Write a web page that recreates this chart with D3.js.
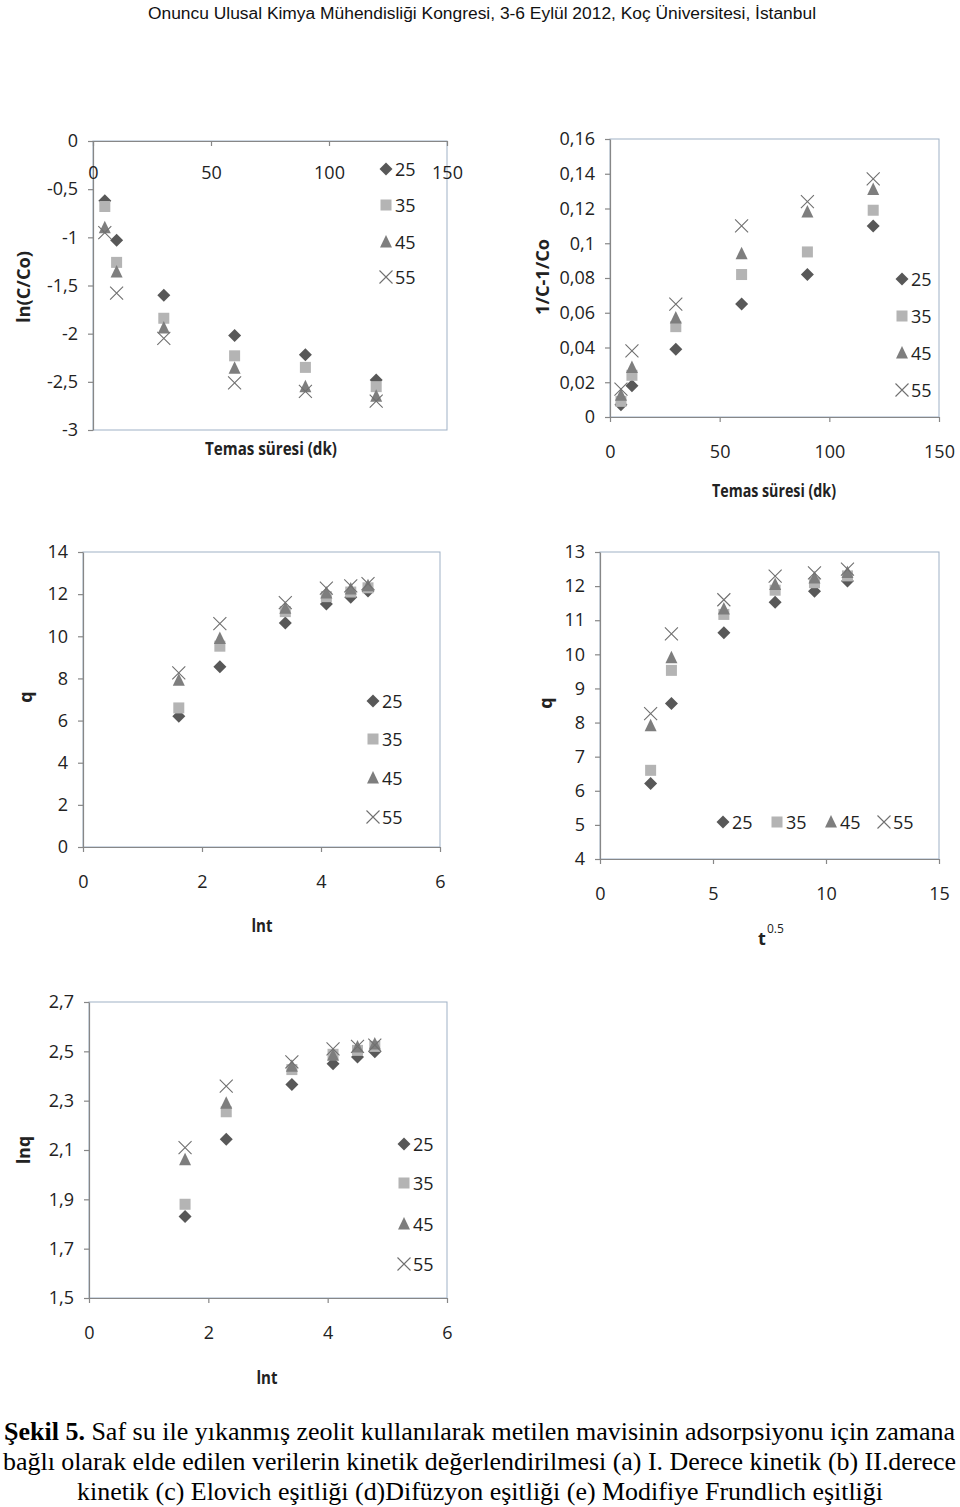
<!DOCTYPE html>
<html>
<head>
<meta charset="utf-8">
<script src="https://cdn.jsdelivr.net/npm/d3@7"></script>
<style>
  html, body { margin: 0; padding: 0; background: #fff; }
  svg { display: block; }
</style>
</head>
<body>
<svg id="fig" width="960" height="1507"></svg>
<script>
// ---------------- DATA ----------------
const seriesNames = ["25", "35", "45", "55"];
const timeMin = [5, 10, 30, 60, 90, 120];
const lnT = [1.61, 2.30, 3.40, 4.09, 4.50, 4.79];
const sqrtT = [2.24, 3.16, 5.48, 7.75, 9.49, 10.95];

// (a) ln(C/Co)
const lnC_25 = [-0.62, -1.03, -1.60, -2.02, -2.22, -2.48];
const lnC_35 = [-0.68, -1.26, -1.84, -2.23, -2.35, -2.55];
const lnC_45 = [-0.90, -1.36, -1.94, -2.36, -2.55, -2.65];
const lnC_55 = [-0.95, -1.58, -2.05, -2.51, -2.60, -2.70];

// (b) 1/C - 1/Co
const inv_25 = [0.007, 0.018, 0.039, 0.065, 0.082, 0.110];
const inv_35 = [0.009, 0.024, 0.052, 0.082, 0.095, 0.119];
const inv_45 = [0.0125, 0.0285, 0.057, 0.094, 0.118, 0.131];
const inv_55 = [0.016, 0.038, 0.065, 0.110, 0.124, 0.137];

// (c),(d) q
const q_25 = [6.21, 8.56, 10.63, 11.53, 11.85, 12.15];
const q_35 = [6.60, 9.53, 11.17, 11.88, 12.10, 12.30];
const q_45 = [7.91, 9.90, 11.33, 12.05, 12.24, 12.40];
const q_55 = [8.26, 10.60, 11.60, 12.29, 12.39, 12.50];

// (e) ln q
const lnq_25 = [1.83, 2.144, 2.366, 2.45, 2.477, 2.498];
const lnq_35 = [1.88, 2.255, 2.426, 2.488, 2.504, 2.52];
const lnq_45 = [2.06, 2.29, 2.44, 2.484, 2.518, 2.53];
const lnq_55 = [2.11, 2.359, 2.457, 2.51, 2.52, 2.525];

// tick values
const ticksA_x = [0, 50, 100, 150];
const ticksA_y = [0, -0.5, -1, -1.5, -2, -2.5, -3];
const ticksB_x = [0, 50, 100, 150];
const ticksB_y = [0, 0.02, 0.04, 0.06, 0.08, 0.1, 0.12, 0.14, 0.16];
const ticksC_x = [0, 2, 4, 6];
const ticksC_y = [0, 2, 4, 6, 8, 10, 12, 14];
const ticksD_x = [0, 5, 10, 15];
const ticksD_y = [4, 5, 6, 7, 8, 9, 10, 11, 12, 13];
const ticksE_x = [0, 2, 4, 6];
const ticksE_y = [1.5, 1.7, 1.9, 2.1, 2.3, 2.5, 2.7];

const headerText = "Onuncu Ulusal Kimya Mühendisliği Kongresi, 3-6 Eylül 2012, Koç Üniversitesi, İstanbul";
const captionBold = "Şekil 5.";
const captionLine1 = " Saf su ile yıkanmış zeolit kullanılarak metilen mavisinin adsorpsiyonu için zamana";
const captionLine2 = "bağlı olarak elde edilen verilerin kinetik değerlendirilmesi (a) I. Derece kinetik (b) II.derece";
const captionLine3 = "kinetik (c) Elovich eşitliği (d)Difüzyon eşitliği (e) Modifiye Frundlich eşitliği";

// ---------------- STYLE ----------------
const FONT = "'Open Sans', 'Liberation Sans', sans-serif";
const FS = 18;
const markerStyle = [
  { type: "diamond", fill: "#585858" },
  { type: "square", fill: "#b4b4b4" },
  { type: "triangle", fill: "#7e7e7e" },
  { type: "cross", stroke: "#707070" }
];
const fmtComma = d => String(+d.toFixed(3)).replace(".", ",");

const svg = d3.select("#fig");

function drawMarker(g, type, cx, cy) {
  const m = markerStyle[type];
  if (m.type === "diamond") {
    g.append("path").attr("d", `M${cx},${cy-6.5}L${cx+6.5},${cy}L${cx},${cy+6.5}L${cx-6.5},${cy}Z`).attr("fill", m.fill);
  } else if (m.type === "square") {
    g.append("rect").attr("x", cx-5.5).attr("y", cy-5.5).attr("width", 11).attr("height", 11).attr("fill", m.fill);
  } else if (m.type === "triangle") {
    g.append("path").attr("d", `M${cx},${cy-7}L${cx+6},${cy+5.5}L${cx-6},${cy+5.5}Z`).attr("fill", m.fill);
  } else {
    g.append("path").attr("d", `M${cx-6.5},${cy-6.5}L${cx+6.5},${cy+6.5}M${cx+6.5},${cy-6.5}L${cx-6.5},${cy+6.5}`)
      .attr("stroke", m.stroke).attr("stroke-width", 1.1).attr("fill", "none");
  }
}

function panel(cfg) {
  const g = svg.append("g");
  const x = d3.scaleLinear().domain(cfg.xDomain).range([cfg.left, cfg.right]);
  const y = d3.scaleLinear().domain(cfg.yDomain).range([cfg.bottom, cfg.top]);

  g.append("rect").attr("x", cfg.left).attr("y", cfg.top)
    .attr("width", cfg.right - cfg.left).attr("height", cfg.bottom - cfg.top)
    .attr("fill", "none").attr("stroke", "#9fb1c6").attr("stroke-width", 1);

  const ya = g.append("g").attr("transform", `translate(${cfg.left},0)`)
    .call(d3.axisLeft(y).tickValues(cfg.yTicks).tickFormat(fmtComma).tickSize(5).tickSizeOuter(0).tickPadding(10));
  const xAxisY = cfg.xAxisAt !== undefined ? y(cfg.xAxisAt) : cfg.bottom;
  const xa = g.append("g").attr("transform", `translate(0,${xAxisY})`)
    .call(d3.axisBottom(x).tickValues(cfg.xTicks).tickFormat(fmtComma).tickSize(5).tickSizeOuter(0).tickPadding(cfg.xPad));
  [ya, xa].forEach(a => {
    a.selectAll("path.domain").attr("stroke", "#878787").attr("stroke-width", 1.2);
    a.selectAll(".tick line").attr("stroke", "#878787").attr("stroke-width", 1.2);
    a.selectAll("text").attr("font-family", FONT).attr("font-size", FS).attr("fill", "#222");
  });

  cfg.series.forEach((s, i) => {
    const sg = g.append("g");
    s.ys.forEach((v, j) => drawMarker(sg, i, x(s.xs[j]), y(v)));
  });

  g.append("text").attr("x", cfg.xTitle[0]).attr("y", cfg.xTitle[1])
    .attr("text-anchor", "middle").attr("dominant-baseline", "central")
    .attr("font-family", FONT).attr("font-weight", "bold").attr("font-size", 18).attr("fill", "#222")
    .attr("textLength", cfg.xTitle[2] || null).attr("lengthAdjust", "spacingAndGlyphs")
    .text(cfg.xTitleText);
  if (cfg.xTitleSup) {
    g.append("text").attr("x", cfg.xTitle[0] + 5).attr("y", cfg.xTitle[1] - 5)
      .attr("font-family", FONT).attr("font-size", 12).attr("fill", "#222").text(cfg.xTitleSup);
  }
  g.append("text").attr("transform", `translate(${cfg.yTitle[0]},${cfg.yTitle[1]}) rotate(-90)`)
    .attr("text-anchor", "middle").attr("dominant-baseline", "central")
    .attr("font-family", FONT).attr("font-weight", "bold").attr("font-size", 18).attr("fill", "#222")
    .attr("textLength", cfg.yTitle[2] || null).attr("lengthAdjust", "spacingAndGlyphs")
    .text(cfg.yTitleText);

  const lg = g.append("g");
  seriesNames.forEach((name, i) => {
    const p = cfg.legend[i];
    drawMarker(lg, i, p[0], p[1]);
    lg.append("text").attr("x", p[0] + 9).attr("y", p[1]).attr("dominant-baseline", "central")
      .attr("font-family", FONT).attr("font-size", FS).attr("fill", "#222").text(name);
  });
}

// (a)
panel({
  left: 93, right: 447, top: 141, bottom: 430,
  xDomain: [0, 150], yDomain: [-3, 0], xTicks: ticksA_x, yTicks: ticksA_y,
  xAxisAt: 0, xPad: 20,
  series: [lnC_25, lnC_35, lnC_45, lnC_55].map(ys => ({ xs: timeMin, ys })),
  xTitleText: "Temas süresi (dk)", xTitle: [271, 448, 132],
  yTitleText: "ln(C/Co)", yTitle: [23, 287, 72],
  legend: [[386, 169], [386, 205], [386, 242], [386, 277]]
});
// (b)
panel({
  left: 610, right: 939, top: 139, bottom: 417,
  xDomain: [0, 150], yDomain: [0, 0.16], xTicks: ticksB_x, yTicks: ticksB_y,
  xPad: 23,
  series: [inv_25, inv_35, inv_45, inv_55].map(ys => ({ xs: timeMin, ys })),
  xTitleText: "Temas süresi (dk)", xTitle: [774, 490, 124],
  yTitleText: "1/C-1/Co", yTitle: [542, 277, 76],
  legend: [[902, 279], [902, 316], [902, 353], [902, 390]]
});
// (c)
panel({
  left: 83, right: 440, top: 552, bottom: 847,
  xDomain: [0, 6], yDomain: [0, 14], xTicks: ticksC_x, yTicks: ticksC_y,
  xPad: 23,
  series: [q_25, q_35, q_45, q_55].map(ys => ({ xs: lnT, ys })),
  xTitleText: "lnt", xTitle: [262, 925, 21],
  yTitleText: "q", yTitle: [25, 697],
  legend: [[373, 701], [373, 739], [373, 778], [373, 817]]
});
// (d)
panel({
  left: 600, right: 939, top: 552, bottom: 859,
  xDomain: [0, 15], yDomain: [4, 13], xTicks: ticksD_x, yTicks: ticksD_y,
  xPad: 23,
  series: [q_25, q_35, q_45, q_55].map(ys => ({ xs: sqrtT, ys })),
  xTitleText: "t", xTitleSup: "0.5", xTitle: [762, 938],
  yTitleText: "q", yTitle: [545, 703],
  legend: [[723, 822], [777, 822], [831, 822], [884, 822]]
});
// (e)
panel({
  left: 89, right: 447, top: 1002, bottom: 1298,
  xDomain: [0, 6], yDomain: [1.5, 2.7], xTicks: ticksE_x, yTicks: ticksE_y,
  xPad: 23,
  series: [lnq_25, lnq_35, lnq_45, lnq_55].map(ys => ({ xs: lnT, ys })),
  xTitleText: "lnt", xTitle: [267, 1377, 21],
  yTitleText: "lnq", yTitle: [23, 1150, 28],
  legend: [[404, 1144], [404, 1183], [404, 1224], [404, 1264]]
});

// header
svg.append("text").attr("x", 148).attr("y", 19)
  .attr("font-family", "'Liberation Sans Narrow', 'Liberation Sans', sans-serif").attr("font-size", 16).attr("fill", "#111")
  .attr("textLength", 668).attr("lengthAdjust", "spacingAndGlyphs").text(headerText);

// caption
const SERIF = "'Liberation Serif', 'DejaVu Serif', serif";
const c1 = svg.append("text").attr("x", 4).attr("y", 1440)
  .attr("font-family", SERIF).attr("font-size", 25).attr("fill", "#000")
  .attr("textLength", 951).attr("lengthAdjust", "spacingAndGlyphs");
c1.append("tspan").attr("font-weight", "bold").text(captionBold);
c1.append("tspan").text(captionLine1);
svg.append("text").attr("x", 3).attr("y", 1470)
  .attr("font-family", SERIF).attr("font-size", 25).attr("fill", "#000")
  .attr("textLength", 953).attr("lengthAdjust", "spacingAndGlyphs").text(captionLine2);
svg.append("text").attr("x", 77).attr("y", 1500)
  .attr("font-family", SERIF).attr("font-size", 25).attr("fill", "#000")
  .attr("textLength", 806).attr("lengthAdjust", "spacingAndGlyphs").text(captionLine3);
</script>
</body>
</html>
